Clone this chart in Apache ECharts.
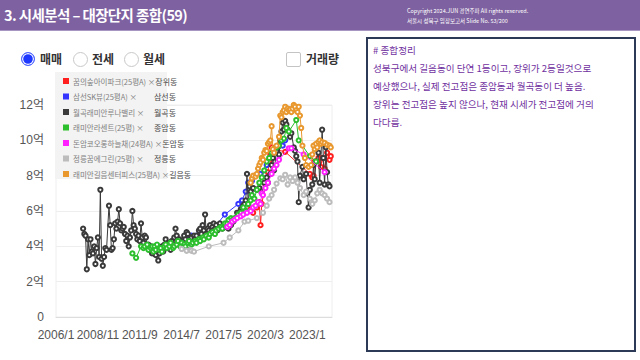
<!DOCTYPE html>
<html><head><meta charset="utf-8">
<script src="https://cdn.jsdelivr.net/npm/echarts/dist/echarts.min.js"></script>
<style>
html,body{margin:0;padding:0;width:640px;height:360px;overflow:hidden;background:#fff;font-family:"Noto Sans CJK KR","Noto Sans",sans-serif;}
#hdr{position:absolute;left:0;top:0;width:640px;height:30px;background:#7e61a0;border-bottom:1px solid #a896c2;}
#title{position:absolute;left:4px;top:5px;color:#fff;font-weight:bold;font-size:14.5px;letter-spacing:-0.6px;line-height:20px;white-space:nowrap;}
#copy{position:absolute;left:407px;top:6px;color:#fff;font-size:5.5px;line-height:10px;white-space:nowrap;}
#chart{position:absolute;left:0;top:0;width:360px;height:360px;}
.radio{position:absolute;top:52px;width:13px;height:13px;border-radius:50%;border:1px solid #c9c9c9;background:#fff;}
.radio.on{width:12px;height:12px;border:1.5px solid #4f66ff;background:#1e37ff;box-shadow:inset 0 0 0 1.2px #fff;}
.chk{position:absolute;left:286px;top:52px;width:13px;height:13px;border:1px solid #c4c4c4;border-radius:2px;background:#fff;}
.lbl{position:absolute;top:50px;font-size:12px;font-weight:bold;color:#333;line-height:18px;white-space:nowrap;}
#panel{position:absolute;left:366px;top:37px;width:270px;height:315px;border:2px solid #2d3a57;box-sizing:border-box;padding:2px 0 0 5px;color:#7030a0;font-size:9.6px;line-height:18px;}
#panel div{white-space:nowrap;}
</style></head>
<body>
<div id="chart"></div>
<div id="hdr">
  <div id="title">3. 시세분석 – 대장단지 종합(59)</div>
  <div id="copy">Copyright 2024.JUN 경연주파 All rights reserved.<br>서울시 성북구 임장보고서 Slide No. 53/200</div>
</div>
<div class="radio on" style="left:21px"></div><div class="lbl" style="left:40px">매매</div>
<div class="radio" style="left:73px"></div><div class="lbl" style="left:92px">전세</div>
<div class="radio" style="left:124px"></div><div class="lbl" style="left:143px">월세</div>
<div class="chk"></div><div class="lbl" style="left:306px">거래량</div>
<div id="panel">
  <div># 종합정리</div>
  <div>성북구에서 길음동이 단연 1등이고, 장위가 2등일것으로</div>
  <div>예상했으나, 실제 전고점은 종암동과 월곡동이 더 높음.</div>
  <div>장위는 전고점은 높지 않으나, 현재 시세가 전고점에 거의</div>
  <div>다다름.</div>
</div>
<script>
// ---- categories (monthly, 2006/1 .. 2024/9) ----
const startYear = 2006, endYear = 2024, endMonth = 9;
const months = [];
for (let y = startYear; y <= endYear; y++) for (let m = 1; m <= 12; m++) { if (y === endYear && m > endMonth) break; months.push(y + '/' + m); }

// ---- series names / dongs / colors ----
const seriesNames = ['꿈의숲아이파크(25평A)','삼선SK뷰(25평A)','월곡래미안루나밸리','래미안라센트(25평)','돈암코오롱하늘채(24평A)','정릉꿈에그린(25평)','래미안길음센터피스(25평A)'];
const dongs = ['장위동','삼선동','월곡동','종암동','돈암동','정릉동','길음동'];
const colors = ['#ff1f1f','#3535ff','#3a3a3a','#2dbf2d','#ff1fff','#bcbcbc','#e8982e'];
const yTicks = [0, 2, 4, 6, 8, 10, 12];

// ---- values (억) ----
const jangwi = [["2019/2",6.0],["2019/3",6.1],["2019/5",5.9],["2019/8",6.2],["2019/10",6.5],["2019/11",5.2],["2019/12",6.4],["2020/3",7.5],["2020/5",8.2],["2020/6",8.8],["2020/7",9.2],["2020/8",9.6],["2020/10",9.5],["2021/7",9.35],["2023/3",8.1],["2023/5",7.9],["2023/6",8.0],["2023/7",8.8],["2023/10",9.0],["2023/12",8.5],["2024/1",9.0],["2024/3",8.4],["2024/5",9.3],["2024/7",8.9],["2024/8",9.1]];
const samseon = [["2015/2",4.5],["2015/3",4.6],["2015/5",4.55],["2015/7",4.6],["2016/5",5.0],["2016/10",5.1],["2017/6",5.8],["2018/5",6.4],["2018/8",6.6],["2018/11",7.1],["2019/1",7.6],["2019/4",7.7],["2019/11",8.1],["2020/4",8.6],["2020/8",9.1],["2020/12",9.35],["2021/5",9.7],["2021/7",10.0]];
const wolgok = [["2007/11",5.0],["2007/12",4.7],
["2008/1",4.6],["2008/2",2.7],["2008/3",4.4],["2008/4",3.5],["2008/5",4.4],["2008/6",3.7],["2008/7",3.6],["2008/8",4.0],["2008/9",3.0],["2008/10",3.9],["2008/11",4.5],["2008/12",3.4],
["2009/1",7.2],["2009/2",3.3],["2009/3",2.9],["2009/4",3.4],["2009/5",3.9],["2009/6",3.8],["2009/8",6.3],["2009/9",5.2],["2009/10",3.8],["2009/11",3.9],["2009/12",4.4],
["2010/1",5.3],["2010/2",5.0],["2010/3",5.4],["2010/4",6.1],["2010/5",5.3],["2010/6",4.9],["2010/7",5.0],["2010/8",5.1],["2010/9",4.7],["2010/10",4.3],["2010/11",4.6],["2010/12",4.0],
["2011/1",4.5],["2011/2",4.9],["2011/3",6.0],["2011/4",5.2],["2011/5",5.0],["2011/6",4.7],["2011/7",4.4],["2011/8",4.6],["2011/9",4.3],["2011/10",5.3],["2011/11",4.5],["2011/12",4.2],
["2012/1",4.6],["2012/2",4.5],["2012/3",4.0],["2012/4",4.1],["2012/5",3.8],["2012/6",4.0],["2012/7",3.6],["2012/8",3.8],["2012/9",3.7],["2012/10",3.5],["2012/11",3.9],["2012/12",3.2],
["2013/1",3.6],["2013/2",3.8],["2013/3",4.0],["2013/4",3.7],["2013/5",4.1],["2013/6",4.4],["2013/7",3.9],["2013/8",4.0],["2013/9",4.2],["2013/10",3.8],["2013/11",4.3],["2013/12",4.1],
["2014/1",4.5],["2014/2",5.0],["2014/3",4.6],["2014/4",4.2],["2014/5",4.4],["2014/6",4.0],["2014/7",4.3],["2014/8",4.1],["2014/9",4.6],["2014/10",4.4],["2014/11",4.8],["2014/12",4.7],
["2015/1",4.0],["2015/2",4.3],["2015/3",4.5],["2015/4",4.2],["2015/5",4.6],["2015/6",4.45],["2015/7",4.6],["2015/8",4.3],["2015/9",4.9],["2015/10",5.0],["2015/11",4.7],["2015/12",5.2],
["2016/1",4.9],["2016/2",5.8],["2016/3",4.7],["2016/4",5.0],["2016/5",4.9],["2016/6",5.2],["2016/7",4.8],["2016/8",5.1],["2016/9",5.3],["2016/10",5.0],["2016/11",5.2],["2016/12",4.9],
["2017/1",5.0],["2017/2",5.3],["2017/3",5.1],["2017/4",5.0],["2017/5",5.2],["2017/7",5.1],["2017/8",5.3],["2017/9",5.0],["2017/10",5.4],["2017/11",5.2],["2017/12",5.5],
["2018/1",5.4],["2018/3",5.6],["2018/4",5.9],["2018/5",5.8],["2018/7",6.1],["2018/8",6.0],["2018/9",6.3],["2018/10",6.4],["2018/11",6.6],["2018/12",8.1],
["2019/1",6.4],["2019/2",7.4],["2019/3",7.1],["2019/5",7.3],["2019/8",7.2],["2019/10",7.3],["2019/12",7.0],
["2020/2",7.6],["2020/4",7.9],["2020/5",7.6],["2020/7",8.1],["2020/8",8.6],["2020/9",9.0],["2020/10",8.3],["2020/12",9.4],
["2021/1",9.6],["2021/2",9.2],["2021/3",10.0],["2021/4",10.5],["2021/5",11.0],["2021/6",10.6],["2021/7",11.1],["2021/8",10.9],["2021/9",10.6],["2021/11",10.2],["2021/12",10.4],
["2022/2",9.6],["2022/3",9.4],["2022/4",9.1],["2022/5",8.8],["2022/6",6.5],["2022/7",8.0],["2022/9",8.5],["2022/10",7.8],["2022/12",8.1],
["2023/1",7.0],["2023/2",6.2],["2023/3",7.2],["2023/5",7.5],["2023/6",8.6],["2023/7",7.8],["2023/8",8.8],["2023/10",9.3],["2023/11",7.6],
["2024/1",10.6],["2024/2",9.0],["2024/3",7.5],["2024/4",9.6],["2024/5",8.2],["2024/6",7.5],["2024/7",7.4]];
const jongam = [["2011/3",3.6],["2011/6",3.35],["2011/10",4.0],["2011/12",3.9],
["2012/1",4.0],["2012/3",4.1],["2012/4",3.8],["2012/6",3.9],["2012/7",4.0],["2012/8",3.7],["2012/9",4.0],["2012/10",3.8],["2012/11",4.1],
["2013/1",3.8],["2013/2",3.9],["2013/3",3.7],["2013/5",4.0],["2013/6",4.1],["2013/7",3.9],["2013/9",4.0],["2013/10",4.2],["2013/12",3.9],
["2014/1",4.0],["2014/3",4.1],["2014/4",4.3],["2014/6",4.0],["2014/7",4.2],["2014/9",4.1],["2014/10",4.0],["2014/12",4.2],
["2015/1",4.3],["2015/3",4.1],["2015/4",4.2],["2015/6",4.3],["2015/7",4.2],["2015/9",4.4],["2015/10",4.3],["2015/12",4.5],
["2016/1",4.4],["2016/3",4.6],["2016/5",4.5],["2016/6",4.7],["2016/8",4.8],["2016/10",4.7],["2016/11",4.9],
["2017/1",5.0],["2017/3",5.1],["2017/4",5.0],["2017/6",5.3],["2017/8",5.3],["2017/9",5.5],["2017/11",5.6],["2017/12",5.5],
["2018/2",5.6],["2018/5",5.8],["2018/7",5.9],["2018/9",6.2],["2018/11",6.0],
["2019/1",6.4],["2019/3",6.6],["2019/4",6.9],["2019/6",6.7],["2019/8",7.2],["2019/10",7.6],["2019/12",7.9],
["2020/2",8.3],["2020/4",8.8],["2020/6",9.0],["2020/8",9.3],["2020/10",9.5],["2020/12",9.6],
["2021/2",9.7],["2021/4",10.0],["2021/6",10.1],["2021/8",10.7],["2021/10",10.5],
["2022/4",11.15],["2022/6",10.0],["2023/3",9.1],["2023/8",8.8]];
const donam = [["2017/8",5.1],["2017/10",5.2],["2017/12",5.4],["2018/2",5.5],["2018/4",5.6],["2018/7",5.7],["2018/9",5.8],["2018/12",5.9],["2019/3",6.0],["2019/5",6.2],["2019/7",6.3],["2019/9",6.5],["2019/11",6.4],["2019/12",7.0],["2020/1",6.9],["2020/3",7.3],["2020/5",7.6],["2020/8",8.1],["2020/10",8.4],["2020/12",8.6],["2021/2",8.9],["2021/10",9.55],["2021/12",9.55],["2022/10",9.2],["2024/3",8.2]];
const jeongneung = [["2014/7",3.85],["2014/11",3.75],["2015/2",3.8],["2015/3",3.75],["2015/5",3.7],["2016/5",4.0],["2017/5",4.2],["2017/10",4.5],["2018/5",4.9],["2018/10",5.4],["2019/1",5.45],["2019/8",5.6],["2020/1",5.9],["2020/4",6.3],["2020/6",6.7],["2020/8",6.9],["2020/10",7.2],["2020/12",7.55],["2021/3",7.85],["2021/5",7.8],["2021/7",8.05],["2021/9",7.5],["2021/11",7.9],["2022/1",7.7],["2022/3",7.9],["2022/5",7.6],["2022/7",7.3],["2022/10",6.9],["2022/12",7.1],["2023/3",6.7],["2023/5",6.4],["2023/7",6.6],["2023/9",7.0],["2023/11",7.2],["2024/1",7.0],["2024/3",6.9],["2024/5",6.7],["2024/7",6.5]];
const gireum = [["2019/3",7.6],["2019/4",7.85],["2019/5",8.0],["2019/7",7.95],["2019/8",8.1],["2019/9",8.4],["2019/10",8.6],["2019/11",8.75],["2019/12",9.0],
["2020/1",8.9],["2020/2",9.3],["2020/3",9.45],["2020/4",9.4],["2020/5",9.8],["2020/6",9.9],["2020/7",10.0],["2020/8",10.8],["2020/9",9.5],["2020/10",9.3],["2020/12",9.7],
["2021/2",10.2],["2021/3",11.4],["2021/4",11.3],["2021/5",11.6],["2021/6",11.7],["2021/7",11.9],["2021/8",11.6],["2021/9",11.8],["2021/10",11.7],["2021/11",11.75],["2021/12",11.6],
["2022/1",11.8],["2022/2",12.0],["2022/3",11.9],["2022/4",11.7],["2022/5",11.6],["2022/6",11.9],["2022/7",11.4],["2022/8",10.7],["2022/9",9.7],["2022/11",9.0],["2022/12",8.6],
["2023/2",8.5],["2023/4",8.6],["2023/5",9.2],["2023/6",9.7],["2023/7",9.5],["2023/8",9.8],["2023/9",9.6],["2023/10",9.9],["2023/11",10.0],["2023/12",9.8],
["2024/1",9.9],["2024/3",9.85],["2024/5",9.75],["2024/7",9.7],["2024/8",9.6]];
const seriesData = [jangwi, samseon, wolgok, jongam, donam, jeongneung, gireum];

// ---- legend text layout ----
const ctx = document.createElement('canvas').getContext('2d');
ctx.font = '7.5px "Noto Sans CJK KR"';
const NAME_W = 81;
function legendFmt(name) {
  const i = seriesNames.indexOf(name);
  const w = ctx.measureText(name + ' ×').width;
  const head = w > NAME_W - 1 ? '{h|' + name + ' ×}' : '{a|' + name + ' ×}';
  return head + '{b|' + dongs[i] + '}';
}

const axisFont = "'Liberation Sans','Noto Sans CJK KR',sans-serif";
const chart = echarts.init(document.getElementById('chart'), null, {renderer: 'svg'});
chart.setOption({
  animation: false,
  grid: {left: 56, right: 28, top: 105, bottom: 43, show: true, borderColor: '#eeeeee', borderWidth: 1},
  graphic: [{type: 'rect', left: 55, top: 72, z: 3, shape: {width: 112, height: 107}, style: {fill: '#f3f3f3'}}],
  legend: {
    orient: 'vertical', left: 55, top: 72, z: 5, padding: [4, 4, 3, 8],
    itemWidth: 4, itemHeight: 4, itemGap: 5.5, icon: 'rect',
    data: seriesNames, formatter: legendFmt,
    textStyle: {
      height: 10, lineHeight: 10,
      rich: {
        a: {width: NAME_W, height: 10, fontSize: 7.5, color: '#808080', lineHeight: 10, fontFamily: 'Noto Sans CJK KR'},
        h: {height: 10, fontSize: 7.5, color: '#808080', lineHeight: 10, fontFamily: 'Noto Sans CJK KR'},
        b: {height: 10, fontSize: 8, color: '#4a4a4a', lineHeight: 10, fontFamily: 'Noto Sans CJK KR'}
      }
    }
  },
  xAxis: {
    type: 'category', data: months, boundaryGap: false,
    axisLine: {lineStyle: {color: '#dddddd'}}, axisTick: {show: false},
    axisLabel: {interval: 33, color: '#555', fontSize: 12, margin: 12, fontFamily: axisFont},
    splitLine: {show: false}
  },
  yAxis: {
    type: 'value', min: yTicks[0], max: yTicks[yTicks.length - 1], interval: 2,
    axisLine: {show: false}, axisTick: {show: false},
    axisLabel: {color: '#555', fontSize: 12, margin: 12, fontFamily: axisFont, formatter: v => v === 0 ? '0' : v + '억'},
    splitLine: {lineStyle: {color: '#eeeeee'}}
  },
  series: seriesNames.map((n, i) => ({
    name: n, type: 'line', data: seriesData[i], color: colors[i],
    symbol: 'emptyCircle', symbolSize: 4.2, showSymbol: true, showAllSymbol: true,
    lineStyle: {width: 1, color: colors[i]},
    itemStyle: {color: colors[i], borderColor: colors[i], borderWidth: 0.8},
    z: 2 + i * 0.01
  }))
});
</script>
</body></html>
